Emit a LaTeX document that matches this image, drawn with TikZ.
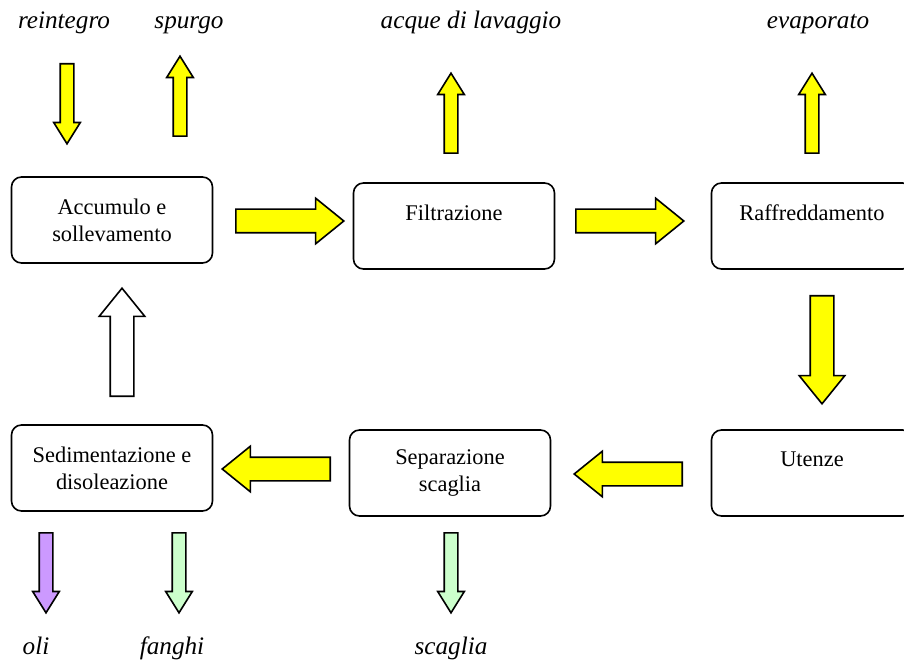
\documentclass[tikz,border=0pt]{standalone}
\usepackage{fontspec}
\setmainfont{Liberation Serif}
\usepackage{xcolor}
\usetikzlibrary{shapes.arrows}
\definecolor{flyellow}{RGB}{255,255,0}
\definecolor{flviolet}{RGB}{204,153,255}
\definecolor{flgreen}{RGB}{204,255,204}

\begin{document}
\begin{tikzpicture}[
  x=0.5pt,y=-0.5pt,
  font=\fontsize{11.2}{13.5}\selectfont,
  stage/.style={draw,rounded corners=5pt,line width=0.8pt,minimum width=100.5pt,
                minimum height=43pt,align=center},
  flow/.style={draw,single arrow,line width=0.8pt,fill=flyellow,anchor=tail},
  thinflow/.style={flow,inner sep=3pt,minimum width=12.5pt,minimum height=40pt,
                   single arrow head extend=3.25pt,single arrow tip angle=64},
  fatflow/.style={flow,inner sep=5.5pt,minimum width=22pt,minimum height=54pt,
                  single arrow head extend=5.5pt,single arrow tip angle=78},
  tag/.style={font=\fontsize{12.6}{15}\selectfont\itshape,anchor=base}
]
  \useasboundingbox (0,0) rectangle (904,662);
  \clip (0,0) rectangle (904,662);
  % process stages
  \node[stage] (acc) at (112,220) {Accumulo e\\sollevamento};
  \node[stage] (filt) at (454,226) {Filtrazione\\\phantom{X}};
  \node[stage] (raff) at (812,226) {Raffreddamento\\\phantom{X}};
  \node[stage] (uten) at (812,473) {Utenze\\\phantom{X}};
  \node[stage] (sep) at (450,473) {Separazione\\scaglia};
  \node[stage] (sed) at (112,468) {Sedimentazione e\\disoleazione};
  % main cycle (placed by tail)
  \node[fatflow] (accfilt) at (235,221) {};
  \node[fatflow] (filtraff) at (575,221) {};
  \node[fatflow,rotate=-90] (raffuten) at (822,295) {};
  \node[fatflow,rotate=180] (utensep) at (683,474) {};
  \node[fatflow,rotate=180] (sepsed) at (331,469) {};
  \node[fatflow,rotate=90,fill=white] (sedacc) at (122,397) {};
  % inputs and outputs
  \node[thinflow,rotate=-90] (inreint) at (67,63) {};
  \node[thinflow,rotate=90] (outspurgo) at (180,137) {};
  \node[thinflow,rotate=90] (outwash) at (451,154) {};
  \node[thinflow,rotate=90] (outevap) at (812,154) {};
  \node[thinflow,rotate=-90,fill=flviolet] (outoli) at (46,532) {};
  \node[thinflow,rotate=-90,fill=flgreen] (outfanghi) at (179,532) {};
  \node[thinflow,rotate=-90,fill=flgreen] (outscaglia) at (451,532) {};
  % labels
  \node[tag] (reint) at (64,29) {reintegro};
  \node[tag] (spurgo) at (189,29) {spurgo};
  \node[tag] (wash) at (471,29) {acque di lavaggio};
  \node[tag] (evap) at (818,29) {evaporato};
  \node[tag] (oli) at (36,654) {oli};
  \node[tag] (fanghi) at (172,654) {fanghi};
  \node[tag] (scaglia) at (451,654) {scaglia};
\end{tikzpicture}
\end{document}
